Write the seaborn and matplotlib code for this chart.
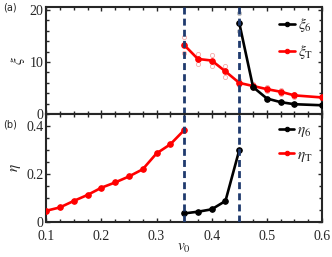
import numpy as np
import pandas as pd
import seaborn as sns
import matplotlib.pyplot as plt
from matplotlib.ticker import MultipleLocator

sns.set_style("ticks")
plt.rcParams['font.family'] = ['Liberation Serif', 'DejaVu Serif']
plt.rcParams['mathtext.fontset'] = 'stix'

# correlation length xi
v_xi6 = [0.45, 0.475, 0.5, 0.525, 0.55, 0.6]
xi6 = [17.5, 5.2, 3.0, 2.3, 1.9, 1.7]
v_xiT = [0.35, 0.375, 0.4, 0.425, 0.45, 0.475, 0.5, 0.525, 0.55, 0.6]
xiT = [13.3, 10.6, 10.3, 8.2, 6.0, 5.4, 4.8, 4.3, 3.6, 3.2]
xiT_err = [1.5, 1.0, 1.0, 1.0, 0.5, 0.4, 0.4, 0.4, 0.3, 0.3]

# exponent eta
v_eta6 = [0.35, 0.375, 0.4, 0.425, 0.45]
eta6 = [0.036, 0.043, 0.053, 0.088, 0.30]
v_etaT = [0.1, 0.125, 0.15, 0.175, 0.2, 0.225, 0.25, 0.275, 0.3, 0.325, 0.35]
etaT = [0.047, 0.061, 0.088, 0.113, 0.143, 0.165, 0.19, 0.22, 0.286, 0.324, 0.383]

transitions = [0.35, 0.45]

fig = plt.figure(figsize=(3.32, 2.57), dpi=100)
ax1 = fig.add_axes([0.139, 0.556, 0.831, 0.417])
ax2 = fig.add_axes([0.139, 0.136, 0.831, 0.420])

red = '#ff0000'
navy = '#1f3a6e'

# faint open circles for spread of xi_T
for s in (-1, 1):
    ax1.plot(v_xiT, np.array(xiT) + s * np.array(xiT_err), 'o', ms=3,
             mfc='none', mec='#f4a8a8', mew=0.6, zorder=2)
ax1.plot([0.45, 0.45], [19.5, 16.0], 'o', ms=3, mfc='none', mec='#b8b8b8', mew=0.6, zorder=2)

df_xi6 = pd.DataFrame({'v0': v_xi6, 'val': xi6})
df_xiT = pd.DataFrame({'v0': v_xiT, 'val': xiT})
sns.lineplot(data=df_xi6, x='v0', y='val', color='black', marker='o', ms=4,
             mec='black', lw=1.9, ax=ax1, label=r'$\xi_6$', zorder=4)
sns.lineplot(data=df_xiT, x='v0', y='val', color=red, marker='o', ms=4,
             mec=red, lw=1.9, ax=ax1, label=r'$\xi_{\rm T}$', zorder=3)

df_eta6 = pd.DataFrame({'v0': v_eta6, 'val': eta6})
df_etaT = pd.DataFrame({'v0': v_etaT, 'val': etaT})
sns.lineplot(data=df_eta6, x='v0', y='val', color='black', marker='o', ms=4,
             mec='black', lw=1.9, ax=ax2, label=r'$\eta_6$', zorder=4)
sns.lineplot(data=df_etaT, x='v0', y='val', color=red, marker='o', ms=4,
             mec=red, lw=1.9, ax=ax2, label=r'$\eta_{\rm T}$', zorder=3)

for ax in (ax1, ax2):
    for v in transitions:
        ax.axvline(v, color=navy, ls=(0, (2.5, 1.5)), lw=2, zorder=5)
    ax.set_xlim(0.1, 0.6)
    ax.xaxis.set_major_locator(MultipleLocator(0.1))
    ax.xaxis.set_minor_locator(MultipleLocator(0.025))
    ax.tick_params(which='both', direction='in', top=True, right=True,
                   labelsize=10, width=1, pad=2)
    ax.tick_params(which='major', length=3)
    ax.tick_params(which='minor', length=2)
    for sp in ax.spines.values():
        sp.set_linewidth(1.5)
    ax.legend(loc='upper right', frameon=False, fontsize=11, handlelength=1.0,
              handletextpad=0.2, borderaxespad=0.2, labelspacing=0.6,
              markerscale=0.8)

ax1.set_ylim(0, 20.6)
ax1.yaxis.set_major_locator(MultipleLocator(10))
ax1.yaxis.set_minor_locator(MultipleLocator(2))
ax1.set_yticks([0, 10, 20])
ax1.set_yticklabels(['0', '10', '20'])
ax1.tick_params(labelbottom=False)
ax1.set_xlabel('')
ax1.set_ylabel(r'$\xi$', fontsize=11, labelpad=2)

ax2.set_ylim(0, 0.45)
ax2.yaxis.set_major_locator(MultipleLocator(0.2))
ax2.yaxis.set_minor_locator(MultipleLocator(0.05))
ax2.set_yticks([0, 0.2, 0.4])
ax2.set_yticklabels(['0', '0.2', '0.4'])
ax2.tick_params(axis='x', pad=6)
ax2.set_xlabel(r'$v_0$', fontsize=11, labelpad=-1)
ax2.set_ylabel(r'$\eta$', fontsize=11, labelpad=2)

fig.text(0.01, 0.96, '(a)', fontsize=7, family='DejaVu Sans')
fig.text(0.01, 0.505, '(b)', fontsize=7, family='DejaVu Sans')

fig.savefig('out.png', dpi=100)
